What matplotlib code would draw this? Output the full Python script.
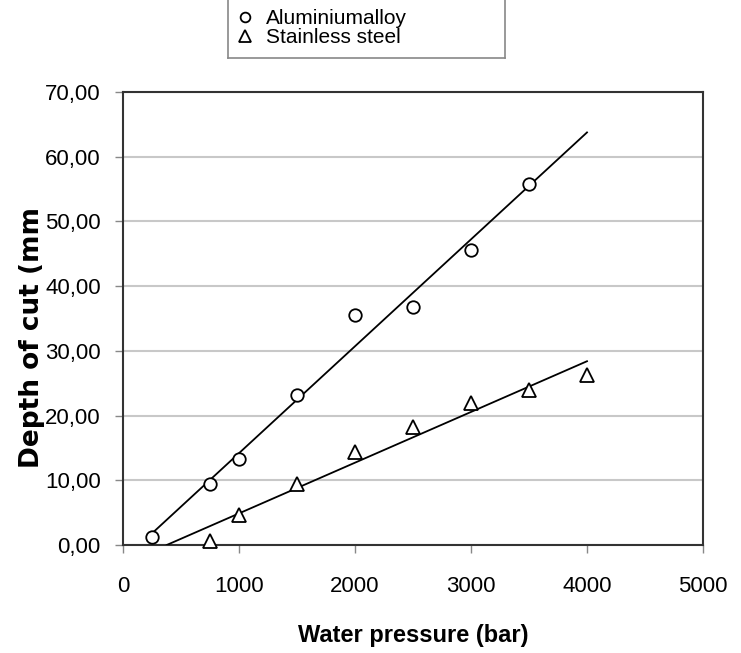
import numpy as np
import matplotlib
matplotlib.use("Agg")
import matplotlib.pyplot as plt

plt.rcParams["font.family"] = ["Liberation Sans", "DejaVu Sans"]

# data
alu_x = np.array([250, 750, 1000, 1500, 2000, 2500, 3000, 3500])
alu_y = np.array([1.2, 9.5, 13.3, 23.2, 35.5, 36.8, 45.6, 55.8])
ss_x = np.array([750, 1000, 1500, 2000, 2500, 3000, 3500, 4000])
ss_y = np.array([0.6, 4.6, 9.5, 14.3, 18.2, 22.0, 23.9, 26.3])
xticks = [0, 1000, 2000, 3000, 4000, 5000]
yticks = [0, 10, 20, 30, 40, 50, 60, 70]

fig = plt.figure(figsize=(7.41, 6.53), dpi=100)
ax = fig.add_axes([123/741, 108/653, 580/741, 453/653])

# linear trend lines
pa = np.polyfit(alu_x, alu_y, 1)
ps = np.polyfit(ss_x, ss_y, 1)
xa = np.array([alu_x[0], 4000])
xs = np.array([-ps[1]/ps[0], 4000])
ax.plot(xa, np.polyval(pa, xa), color="black", lw=1.3, zorder=3)
ax.plot(xs, np.polyval(ps, xs), color="black", lw=1.3, zorder=3)

ax.plot(alu_x, alu_y, "o", mfc="white", mec="black", ms=9, mew=1.3, zorder=4, clip_on=False)
ax.plot(ss_x, ss_y, "^", mfc="white", mec="black", ms=10, mew=1.3, zorder=4, clip_on=False)

ax.set_xlim(0, 5000)
ax.set_ylim(0, 70)
ax.set_xticks(xticks)
ax.set_yticks(yticks)
ax.set_yticklabels([f"{v:.2f}".replace(".", ",") for v in yticks])
ax.yaxis.grid(True, color="#c8c8c8", lw=1.5)
ax.set_axisbelow(True)
for s in ax.spines.values():
    s.set_linewidth(1.5)
    s.set_color("#333333")
ax.tick_params(axis="both", labelsize=16, length=6, width=1, color="#888888", pad=10)
ax.tick_params(axis="x", pad=16)

ax.set_xlabel("Water pressure (bar)", fontsize=17, fontweight="bold", labelpad=20)
fig.text(32/741, 1 - 338/653, "Depth of cut (mm", rotation=90, fontsize=19,
         fontweight="bold", ha="center", va="center", family="DejaVu Sans")

# legend box, top edge off the picture
lax = fig.add_axes([228/741, (653-58)/653, 277/741, 70/653])
lax.set_xticks([])
lax.set_yticks([])
lax.spines["top"].set_visible(False)
for s in ["left", "right", "bottom"]:
    lax.spines[s].set_color("#888888")
    lax.spines[s].set_linewidth(1.2)
h1, = lax.plot([], [], "o", mfc="white", mec="black", ms=7, mew=1.3)
h2, = lax.plot([], [], "^", mfc="white", mec="black", ms=8, mew=1.3)
lax.legend([h1, h2], ["Aluminiumalloy", "Stainless steel"], loc="lower left",
           bbox_to_anchor=(-0.045, -0.02), frameon=False, fontsize=15,
           handletextpad=0.2, labelspacing=0.0, borderaxespad=0.2, handlelength=1.6)

fig.savefig("out.png", dpi=100)
